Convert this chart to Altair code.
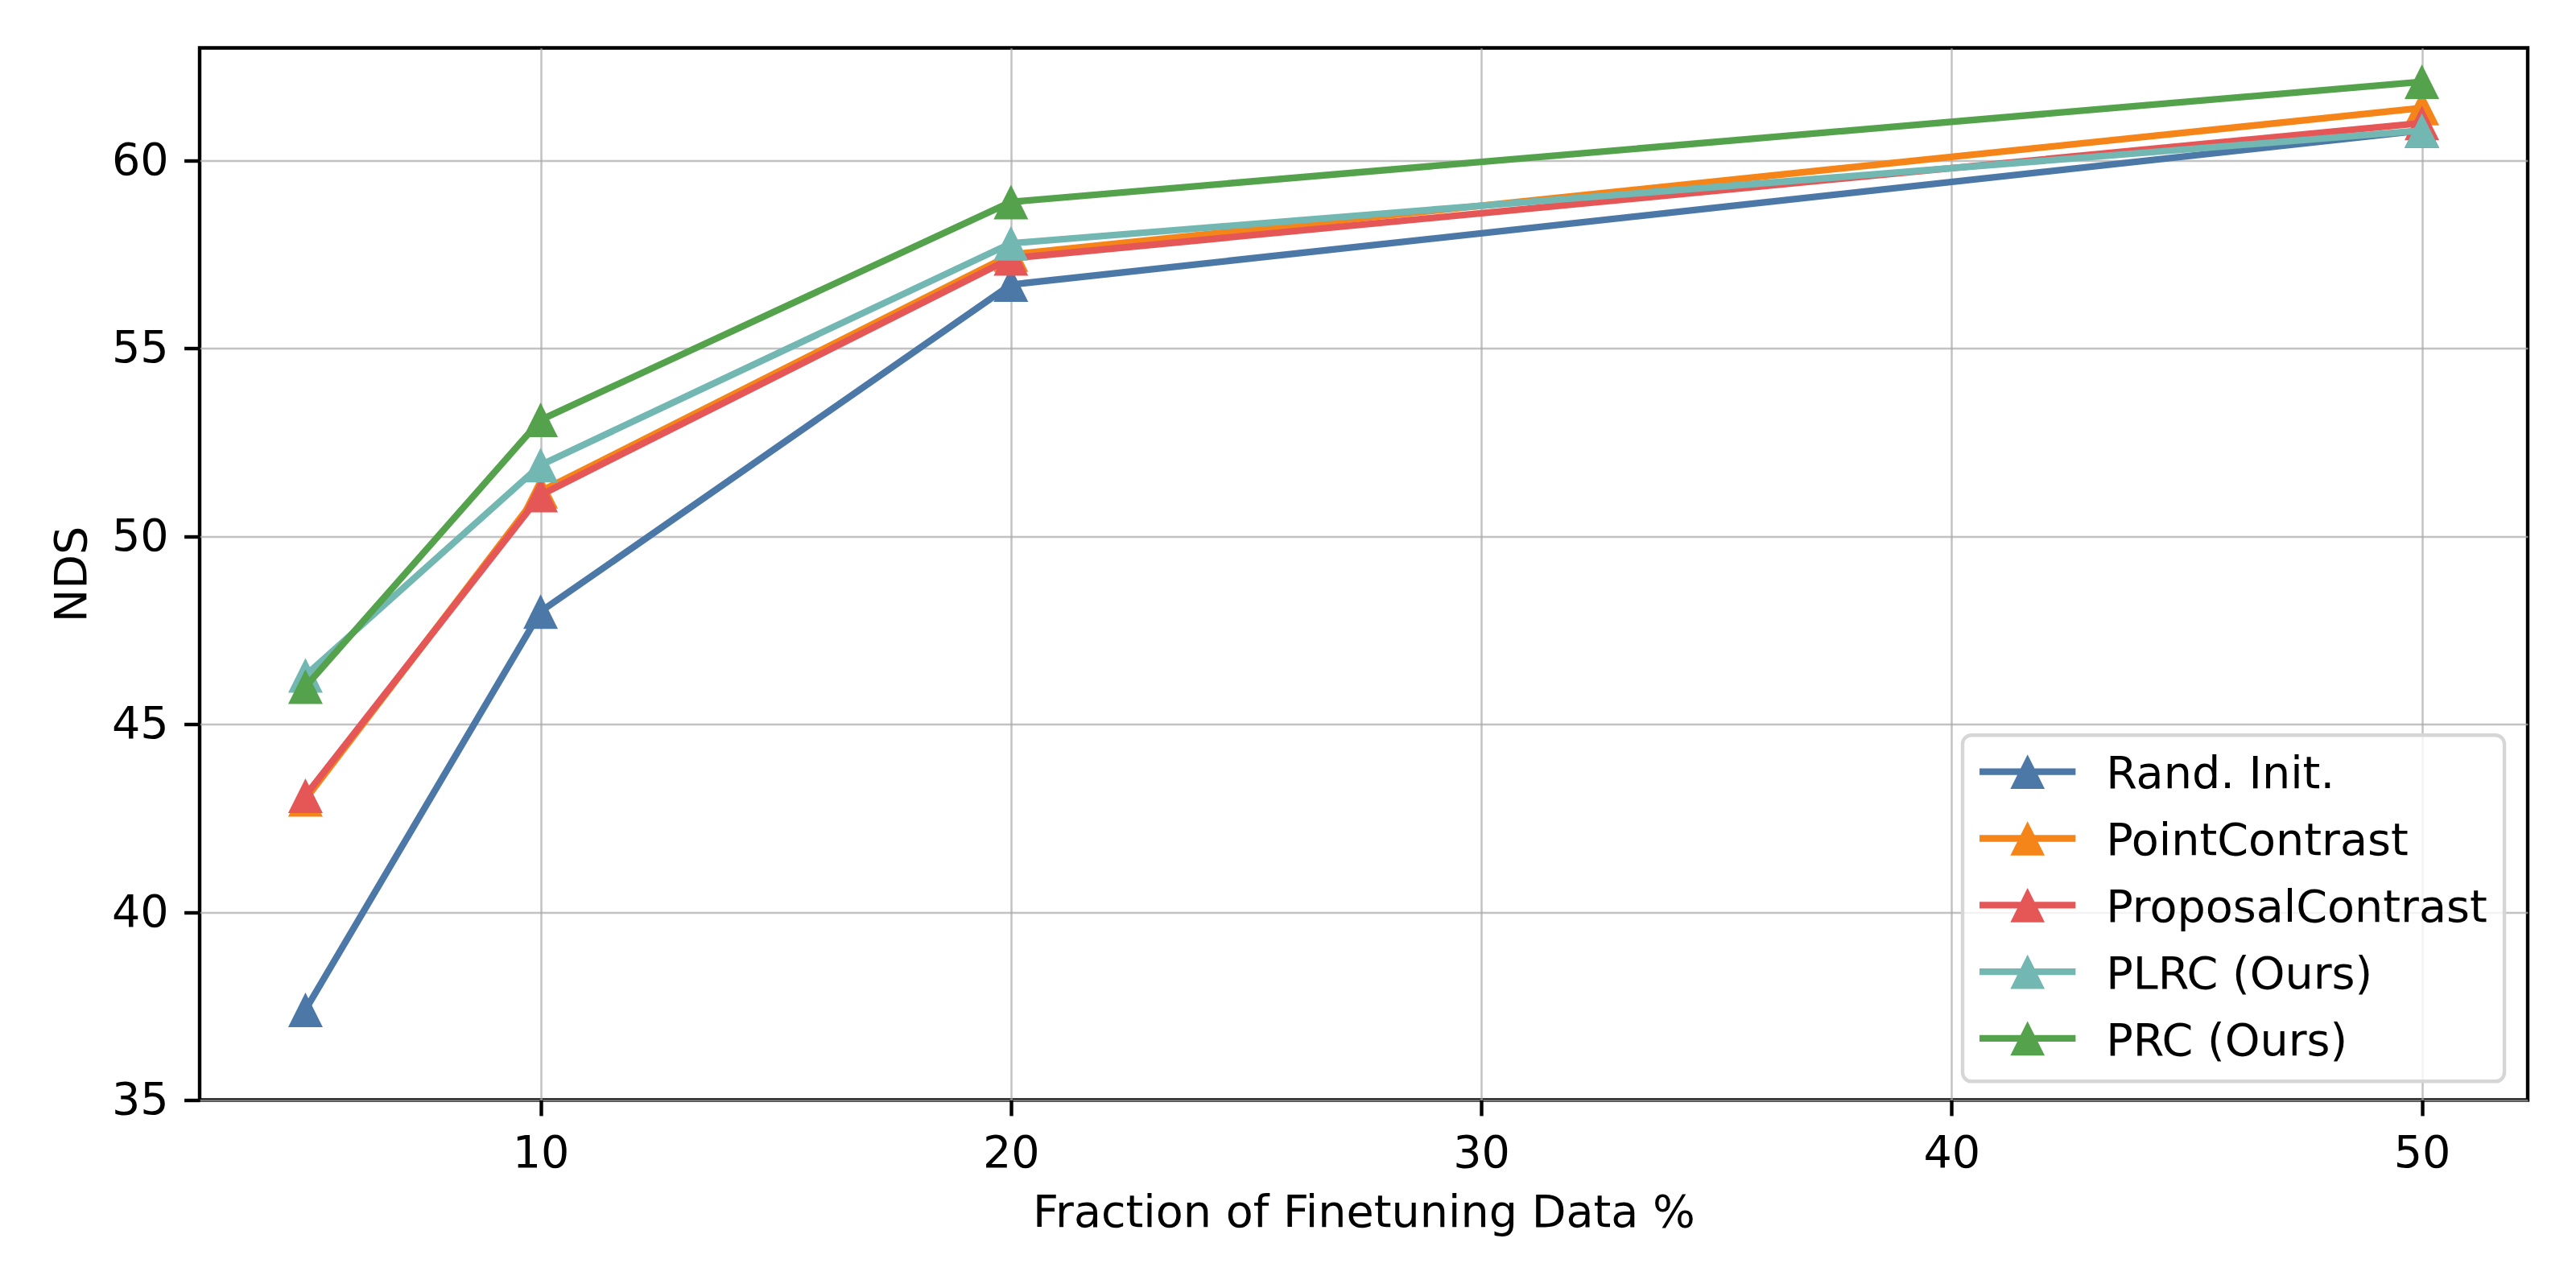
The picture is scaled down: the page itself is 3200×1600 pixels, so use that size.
import altair as alt
import pandas as pd

# ---- data ----
fractions = [5, 10, 20, 50]
series_names = ["Rand. Init.", "PointContrast", "ProposalContrast", "PLRC (Ours)", "PRC (Ours)"]
rand_init = [37.4, 48.0, 56.7, 60.8]
point_contrast = [43.0, 51.2, 57.5, 61.4]
proposal_contrast = [43.1, 51.1, 57.4, 61.0]
plrc_ours = [46.3, 51.9, 57.8, 60.8]
prc_ours = [46.0, 53.1, 58.9, 62.1]
series_colors = ["#4c78a8", "#f58518", "#e45756", "#72b7b2", "#54a24b"]
x_ticks = [10, 20, 30, 40, 50]
y_ticks = [35, 40, 45, 50, 55, 60]

rows = []
for name, vals in zip(series_names, [rand_init, point_contrast, proposal_contrast, plrc_ours, prc_ours]):
    for f, v in zip(fractions, vals):
        rows.append({"fraction": f, "nds": v, "method": name})
df = pd.DataFrame(rows)

FONT = "DejaVu Sans"
FS = 55.6
TRI = "M0,-1L1,1L-1,1Z"
LEG_SYMBOL = "M-2.15,-0.28H2.15V0.02H-2.15Z M0,-0.9L0.77,0.64H-0.77Z"

color_scale = alt.Scale(domain=series_names, range=series_colors)

x_enc = alt.X(
    "fraction:Q",
    scale=alt.Scale(domain=[2.75, 52.25], nice=False, zero=False),
    axis=alt.Axis(values=x_ticks, format="d", title="Fraction of Finetuning Data %",
                  labelPadding=19.2, titlePadding=19),
)
y_enc = alt.Y(
    "nds:Q",
    scale=alt.Scale(domain=[35, 63], nice=False, zero=False),
    axis=alt.Axis(values=y_ticks, format="d", title="NDS",
                  labelPadding=19.4, titlePadding=20),
)

legend = alt.Legend(
    title=None,
    orient="none",
    legendX=2190,
    legendY=853.8,
    symbolType=LEG_SYMBOL,
    symbolSize=3080,
    symbolStrokeWidth=0,
    symbolOpacity=1,
    symbolOffset=31.7,
    labelOffset=69.5,
    rowPadding=25.8,
    padding=21,
    labelFont=FONT,
    labelFontSize=FS,
    labelColor="black",
    labelLimit=2000,
    strokeColor="#d6d6d6",
    cornerRadius=11,
    fillColor="rgba(255,255,255,0.8)",
)

layers = []
for name, col in zip(series_names, series_colors):
    base = alt.Chart(df).transform_filter(alt.datum.method == name)
    line = base.mark_line(strokeWidth=8.3, color=col).encode(
        x=x_enc, y=y_enc,
    )
    pts = base.mark_point(shape=TRI, size=1850, filled=True, opacity=1, strokeWidth=0).encode(
        x=x_enc, y=y_enc,
        color=alt.Color("method:N", scale=color_scale, legend=legend),
    )
    layers.extend([line, pts])

chart = (
    alt.layer(*layers)
    .properties(
        width=2892,
        height=1307,
        autosize=alt.AutoSizeParams(type="none"),
        padding={"left": 240, "top": 51.5, "right": 50, "bottom": 220},
        background="white",
    )
    .configure_view(stroke="black", strokeWidth=4.4)
    .configure_axis(
        labelFont=FONT, labelFontSize=FS, labelColor="black",
        titleFont=FONT, titleFontSize=FS, titleFontWeight="normal", titleColor="black",
        tickSize=19.4, tickWidth=4.4, tickColor="black",
        domain=False,
        grid=True, gridColor="#a8a8a8", gridOpacity=0.7, gridWidth=2.5,
    )
    .configure_legend(strokeWidth=4.4)
)

chart.save("out.html", embed_options={"renderer": "svg", "actions": False})
